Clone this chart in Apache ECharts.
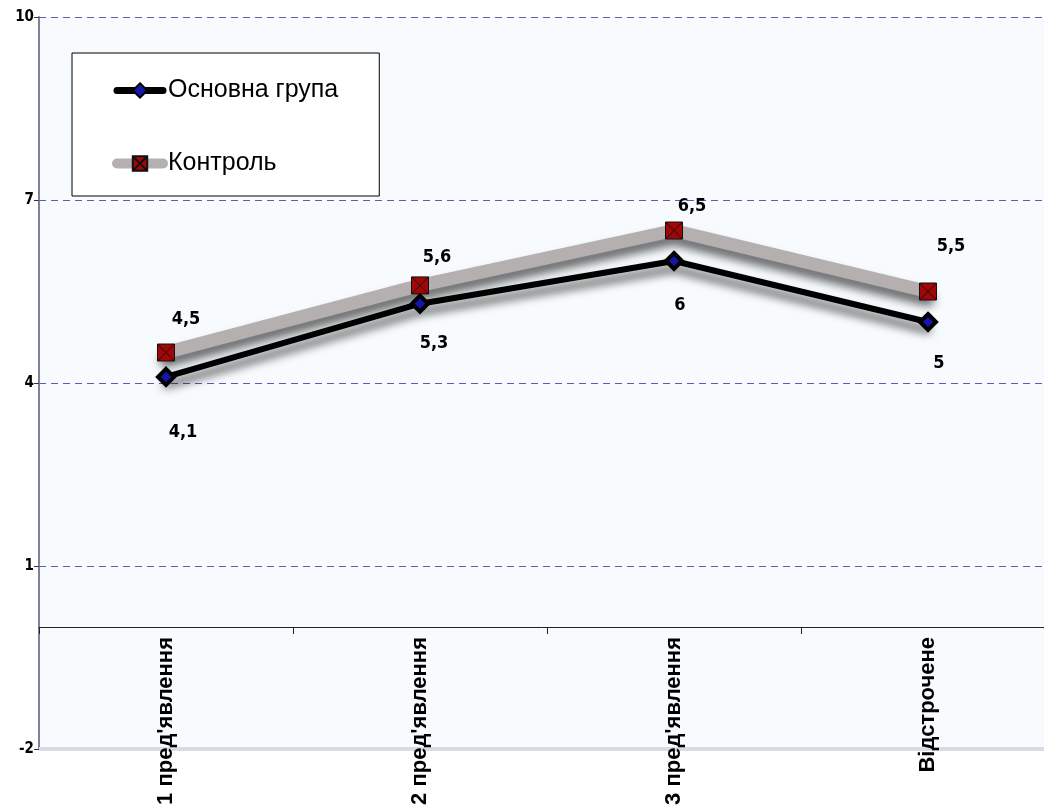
<!DOCTYPE html>
<html>
<head>
<meta charset="utf-8">
<script src="https://cdn.jsdelivr.net/npm/echarts@6/dist/echarts.min.js"></script>
<style>
  html, body { margin: 0; padding: 0; background: #fff; }
  #chart { width: 1044px; height: 811px; }
</style>
</head>
<body>
<div id="chart"></div>
<script>
// --- дані ---
const categories = ["1 пред'явлення", "2 пред'явлення", "3 пред'явлення", 'Відстрочене'];
const mainGroup = [4.1, 5.3, 6, 5];
const controlGroup = [4.5, 5.6, 6.5, 5.5];
const seriesNames = ['Основна група', 'Контроль'];
const yTicks = [-2, 1, 4, 7, 10];

// зсуви підписів (тільки стиль)
const mainLabelNudge = [[17, 55], [14, 40], [6, 44], [11, 41]];
const ctrlLabelNudge = [[20, -33], [17, -28], [18, -24], [23, -45]];

const narrow = "'Liberation Sans Narrow', 'DejaVu Sans Condensed', 'Liberation Sans', Arial, sans-serif";
const gridColor = '#5c5cb4';
const fmt = v => String(v).replace('.', ',');

const chart = echarts.init(document.getElementById('chart'));

const option = {
  backgroundColor: '#ffffff',
  animation: false,
  grid: {
    left: 39, top: 17, bottom: 62, width: 1016,
    outerBoundsMode: 'none', containLabel: false,
    show: true, backgroundColor: '#f7fbfd', borderWidth: 0
  },
  legend: {
    orient: 'vertical',
    left: 72, top: 53,
    padding: [25, 41, 20, 40],
    itemGap: 48,
    itemWidth: 46, itemHeight: 18,
    backgroundColor: '#ffffff',
    borderColor: '#000', borderWidth: 1,
    textStyle: { fontFamily: "'Liberation Sans', Arial, sans-serif", fontSize: 25, color: '#000' },
    data: [
      { name: seriesNames[0], lineStyle: { width: 7, color: '#000' } },
      { name: seriesNames[1], lineStyle: { width: 10, color: '#b5afaf' } }
    ]
  },
  xAxis: {
    type: 'category',
    data: categories,
    boundaryGap: true,
    zlevel: 1,
    axisLine: { onZero: true, lineStyle: { color: '#222', width: 1 } },
    axisTick: { show: true, length: 7, lineStyle: { color: '#222' } },
    axisLabel: {
      // підписи одразу під нульовою лінією
      rotate: 90, margin: -112, interval: 0,
      fontFamily: "'Liberation Sans', Arial, sans-serif",
      fontWeight: 'bold', fontSize: 22, color: '#000'
    },
    splitLine: { show: false }
  },
  yAxis: {
    type: 'value',
    min: yTicks[0], max: yTicks[yTicks.length - 1], interval: 3,
    axisLine: { show: true, lineStyle: { color: '#7c8298', width: 2 } },
    axisTick: { show: true, length: 5, lineStyle: { color: '#333' } },
    axisLabel: {
      fontFamily: narrow, fontWeight: 'bold', fontSize: 15, color: '#000', margin: 5
    },
    splitLine: {
      show: true,
      lineStyle: {
        color: ['rgba(0,0,0,0)', gridColor, gridColor, gridColor, gridColor],
        type: [7, 5], width: 1
      }
    }
  },
  series: [
    {
      name: seriesNames[1],
      type: 'line',
      z: 2,
      data: controlGroup.map((v, i) => ({
        value: v,
        label: { offset: ctrlLabelNudge[i] }
      })),
      symbol: 'path://M0,0 L10,0 L10,10 L0,10 Z M0,0 L10,10 M10,0 L0,10',
      symbolSize: 17,
      itemStyle: { color: '#a30606', borderColor: '#111', borderWidth: 1 },
      lineStyle: {
        color: '#b5afaf', width: 13, cap: 'round', join: 'round',
        shadowColor: 'rgba(0,0,0,0.6)', shadowBlur: 10, shadowOffsetY: 8
      },
      label: {
        show: true, position: 'inside', formatter: p => fmt(p.value),
        fontFamily: narrow, fontWeight: 'bold', fontSize: 18, color: '#000'
      },
      markLine: {
        silent: true, symbol: 'none',
        data: [{ yAxis: yTicks[0] }],
        lineStyle: { color: '#d6dbe4', width: 4, type: 'solid' },
        label: { show: false }
      }
    },
    {
      name: seriesNames[0],
      type: 'line',
      z: 3,
      data: mainGroup.map((v, i) => ({
        value: v,
        label: { offset: mainLabelNudge[i] }
      })),
      symbol: 'diamond',
      symbolSize: 16,
      itemStyle: { color: '#1515a8', borderColor: '#000', borderWidth: 4 },
      lineStyle: {
        color: '#000', width: 6, cap: 'round', join: 'round',
        shadowColor: 'rgba(0,0,0,0.7)', shadowBlur: 10, shadowOffsetY: 8
      },
      label: {
        show: true, position: 'inside', formatter: p => fmt(p.value),
        fontFamily: narrow, fontWeight: 'bold', fontSize: 18, color: '#000'
      }
    }
  ]
};

chart.setOption(option);
</script>
</body>
</html>
